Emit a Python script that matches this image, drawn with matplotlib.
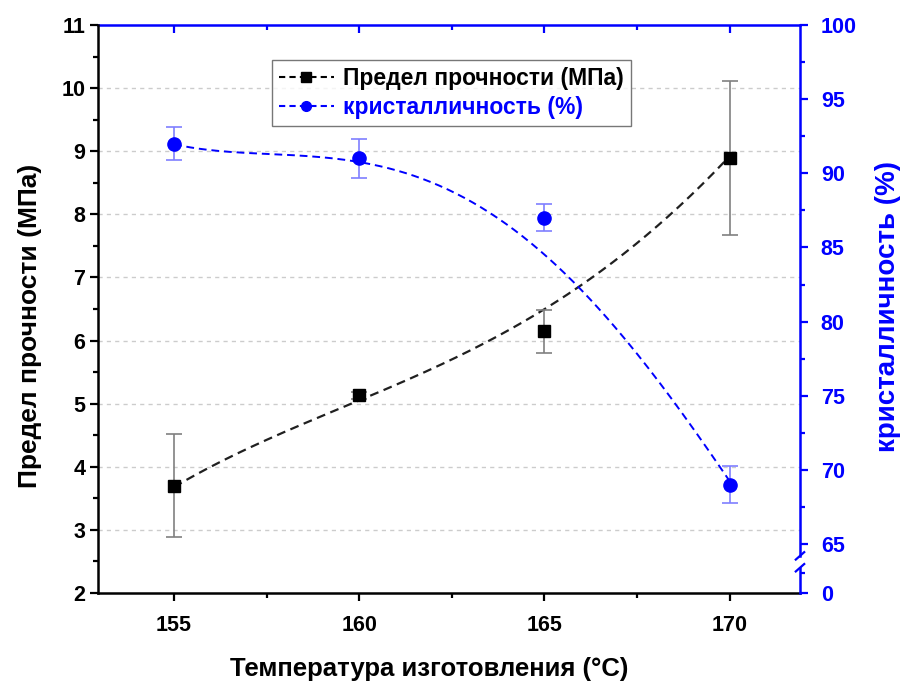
import numpy as np
import matplotlib
matplotlib.use("Agg")
import matplotlib.pyplot as plt
from matplotlib.lines import Line2D
from matplotlib.ticker import MultipleLocator, FixedLocator

plt.rcParams['font.family'] = ['Liberation Sans', 'DejaVu Sans']
plt.rcParams['font.weight'] = 'bold'

# data
temp = [155, 160, 165, 170]
strength = [3.70, 5.13, 6.15, 8.90]
strength_err = [0.82, 0.05, 0.34, 1.22]
cryst = [92.0, 91.0, 87.0, 69.0]
cryst_err = [1.1, 1.3, 0.9, 1.25]

# dashed fit curves
fit_x = [155, 157.5, 160, 162.5, 165, 167.5, 170]
fit_strength = [3.69, 4.38, 5.11, 5.70, 6.44, 7.59, 8.91]
fit_cryst = [91.9, 91.55, 90.45, 88.8, 84.8, 77.6, 69.3]

BLUE = '#0000ff'

fig = plt.figure(figsize=(9.01, 6.82), dpi=100)
ax = fig.add_axes([0.1088, 0.1305, 0.7791, 0.8328])
ax2 = ax.twinx()

xx = np.linspace(155, 170, 200)
ax.plot(xx, np.polyval(np.polyfit(fit_x, fit_strength, 4), xx), color='#202020',
        ls=(0, (4, 2.5)), lw=1.6, zorder=3)
ax.errorbar(temp, strength, yerr=strength_err, fmt='none', ecolor='#808080',
            elinewidth=1.2, capsize=6, capthick=1.2, zorder=4)
ax.plot(temp, strength, 's', color='black', ms=8, zorder=5)

ax2.plot(xx, np.polyval(np.polyfit(fit_x, fit_cryst, 4), xx), color=BLUE,
         ls=(0, (4, 2.5)), lw=1.4, zorder=3)
ax2.errorbar(temp, cryst, yerr=cryst_err, fmt='none', ecolor='#7f7fff',
             elinewidth=1.2, capsize=6, capthick=1.2, zorder=4)
ax2.plot(temp, cryst, 'o', color=BLUE, ms=9.5, zorder=5)

# left axis
ax.set_xlim(152.95, 171.9)
ax.set_ylim(2, 11)
ax.xaxis.set_major_locator(FixedLocator([155, 160, 165, 170]))
ax.xaxis.set_minor_locator(FixedLocator([157.5, 162.5, 167.5]))
ax.yaxis.set_major_locator(MultipleLocator(1))
ax.yaxis.set_minor_locator(MultipleLocator(0.5))
ax.tick_params(which='major', direction='out', length=6, width=1.6, labelsize=15.5, pad=3)
ax.tick_params(which='minor', direction='out', length=3.5, width=1.6)
ax.tick_params(axis='x', pad=10)
for y in range(3, 11):
    ax.axhline(y, color='#cccccc', ls=(0, (3, 3)), lw=1, zorder=1)
ax.spines['left'].set_linewidth(1.8)
ax.spines['bottom'].set_linewidth(1.8)
ax.spines['top'].set_visible(False)
ax.spines['right'].set_visible(False)
ax.set_xlabel('Температура изготовления (°C)', fontsize=18.5, fontweight='bold')
ax.xaxis.set_label_coords(0.4715, -0.112)
ax.set_ylabel('Предел прочности (МПа)', fontsize=19, fontweight='bold')
ax.yaxis.set_label_coords(-0.08, 0.47)

# top spine (blue, inward ticks)
top = ax.secondary_xaxis('top')
top.xaxis.set_major_locator(FixedLocator([155, 160, 165, 170]))
top.xaxis.set_minor_locator(FixedLocator([157.5, 162.5, 167.5]))
top.tick_params(which='major', direction='in', length=6, width=1.6, colors=BLUE, labeltop=False)
top.tick_params(which='minor', direction='in', length=3.5, width=1.6, colors=BLUE)
top.spines['top'].set_color(BLUE)
top.spines['top'].set_linewidth(1.8)

# right axis with a break between 0 and 65
ybot = 65 - 49 / 14.83
ax2.set_ylim(ybot, 100)
ax2.yaxis.set_major_locator(FixedLocator([ybot, 65, 70, 75, 80, 85, 90, 95, 100]))
ax2.set_yticklabels(['0', '65', '70', '75', '80', '85', '90', '95', '100'])
ax2.yaxis.set_minor_locator(FixedLocator([63.05, 67.5, 72.5, 77.5, 82.5, 87.5, 92.5, 97.5]))
ax2.tick_params(which='major', direction='out', length=6, width=1.6, colors=BLUE,
                labelsize=15.5, pad=9)
ax2.tick_params(which='minor', direction='out', length=3.5, width=1.6, colors=BLUE)
for s in ['left', 'top', 'bottom']:
    ax2.spines[s].set_visible(False)
ax2.spines['right'].set_color(BLUE)
ax2.spines['right'].set_linewidth(1.8)
ax2.spines['right'].set_bounds(64.2, 100)
tr = ax2.get_yaxis_transform()
ax2.plot([1, 1], [ybot, 63.4], color=BLUE, lw=1.8, transform=tr, clip_on=False)
for yb in [64.2, 63.4]:
    ax2.plot([0.994, 1.006], [yb - 0.25, yb + 0.25], color=BLUE, lw=1.6,
             transform=tr, clip_on=False)
ax2.set_ylabel('кристалличность (%)', fontsize=20, fontweight='bold', color=BLUE)
ax2.yaxis.set_label_coords(1.107, 0.505)

# legend
handles = [
    Line2D([], [], color='black', ls=(0, (3, 2)), lw=1.5, marker='s', ms=7),
    Line2D([], [], color=BLUE, ls=(0, (3, 2)), lw=1.5, marker='o', ms=7),
]
leg = ax2.legend(handles, ['Предел прочности (МПа)', 'кристалличность (%)'],
                 loc='upper left', bbox_to_anchor=(0.248, 0.938), fontsize=16.5,
                 frameon=True, fancybox=False, edgecolor='#555555', handlelength=2.4,
                 handletextpad=0.4, borderpad=0.3, labelspacing=0.25, borderaxespad=0)
leg.get_frame().set_linewidth(1.0)
leg.set_zorder(10)
leg.get_texts()[1].set_color(BLUE)
for t in leg.get_texts():
    t.set_fontweight('bold')

fig.savefig('out.png', dpi=100)
